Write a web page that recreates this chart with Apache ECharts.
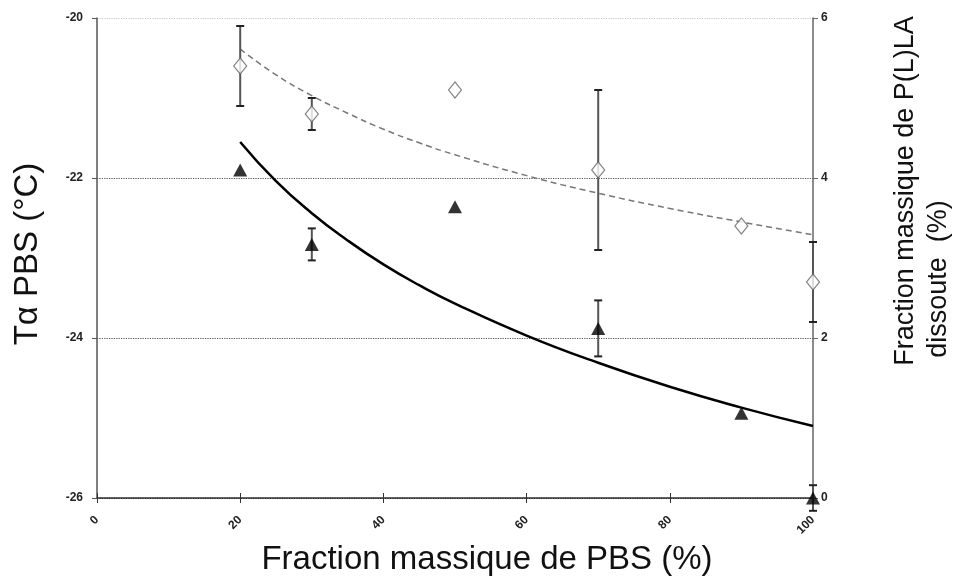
<!DOCTYPE html>
<html><head><meta charset="utf-8">
<script src="https://cdn.jsdelivr.net/npm/echarts@6/dist/echarts.min.js"></script>
<style>html,body{margin:0;padding:0;background:#fff}#c{width:964px;height:583px}</style>
</head><body><div id="c"></div>
<script>
// ---- data ----
const xTicks = [0, 20, 40, 60, 80, 100];
// Tα PBS (°C), left axis — open diamonds
const tX   = [20, 30, 50, 70, 90, 100];
const tY   = [-20.6, -21.2, -20.9, -21.9, -22.6, -23.3];
const tErr = [0.5, 0.2, 0, 1.0, 0, 0.5];
// Fraction massique de P(L)LA dissoute (%), right axis — filled triangles
const pX   = [20, 30, 50, 70, 90, 100];
const pY   = [4.1, 3.17, 3.64, 2.12, 1.06, 0];
const pErr = [0, 0.2, 0, 0.35, 0, 0.16];
// trend curves
const fitX = [20, 25, 30, 35, 40, 45, 50, 60, 70, 80, 90, 100];
const tFit = [-20.39, -20.71, -20.97, -21.19, -21.39, -21.56, -21.71, -21.97, -22.19, -22.38, -22.55, -22.71];
const pFit = [4.45, 3.96, 3.56, 3.22, 2.92, 2.66, 2.43, 2.03, 1.69, 1.39, 1.13, 0.90];

const FONT = '"Liberation Sans", Arial, sans-serif';
const pair = (xs, ys) => xs.map((x, i) => [x, ys[i]]);
const errData = (xs, ys, es) => xs.map((x, i) => [x, ys[i] - es[i], ys[i] + es[i]]).filter((d, i) => es[i] > 0);

function errRender(params, api) {
  const x = api.value(0);
  const lo = api.coord([x, api.value(1)]);
  const hi = api.coord([x, api.value(2)]);
  const w = 4;
  const st = { stroke: '#555', lineWidth: 2 };
  const cap = { stroke: '#222', lineWidth: 2 };
  return { type: 'group', children: [
    { type: 'line', shape: { x1: lo[0], y1: lo[1], x2: hi[0], y2: hi[1] }, style: st },
    { type: 'line', shape: { x1: lo[0] - w, y1: lo[1], x2: lo[0] + w, y2: lo[1] }, style: cap },
    { type: 'line', shape: { x1: hi[0] - w, y1: hi[1], x2: hi[0] + w, y2: hi[1] }, style: cap }
  ]};
}

const chart = echarts.init(document.getElementById('c'), null, { renderer: 'canvas' });
chart.setOption({
  animation: false,
  backgroundColor: '#fff',
  grid: { left: 97, right: 151, top: 18, bottom: 85 },
  xAxis: [{
    type: 'value', min: 0, max: 100, interval: 20, position: 'bottom',
    axisLine: { show: true, onZero: false, lineStyle: { color: '#333', width: 1.5 } },
    axisTick: { show: true, length: 5, lineStyle: { color: '#333' } },
    axisLabel: { rotate: 45, margin: 20, fontFamily: FONT, fontWeight: 'bold', fontSize: 12, color: '#222' },
    splitLine: { show: false }
  }, {
    type: 'value', min: 0, max: 100, interval: 20, position: 'bottom',
    axisLine: { show: false, onZero: false },
    axisTick: { show: true, inside: true, length: 5, lineStyle: { color: '#333' } },
    axisLabel: { show: false }, splitLine: { show: false }
  }],
  yAxis: [{
    type: 'value', min: -26, max: -20, interval: 2, position: 'left',
    axisLine: { show: true, onZero: false, lineStyle: { color: '#555', width: 1.5 } },
    axisTick: { show: true, length: 5, lineStyle: { color: '#555' } },
    axisLabel: { margin: 14, fontFamily: FONT, fontWeight: 'bold', fontSize: 12, color: '#222' },
    splitLine: { show: true, lineStyle: { type: 'dotted', width: 1.2, color: ['#000', '#555', '#555', '#c8c8c8'] } }
  }, {
    type: 'value', min: 0, max: 6, interval: 2, position: 'right',
    axisLine: { show: true, onZero: false, lineStyle: { color: '#666', width: 1.5 } },
    axisTick: { show: true, length: 5, lineStyle: { color: '#666' } },
    axisLabel: { margin: 8, fontFamily: FONT, fontWeight: 'bold', fontSize: 12, color: '#222' },
    splitLine: { show: false }
  }],
  series: [
    { type: 'line', name: 'fitT', yAxisIndex: 0, data: pair(fitX, tFit), smooth: true, showSymbol: false,
      lineStyle: { color: '#777', width: 1.5, type: [6, 4] }, z: 2 },
    { type: 'line', name: 'fitP', yAxisIndex: 1, data: pair(fitX, pFit), smooth: true, showSymbol: false,
      lineStyle: { color: '#000', width: 2.5 }, z: 2 },
    { type: 'custom', name: 'errT', yAxisIndex: 0, data: errData(tX, tY, tErr), renderItem: errRender,
      encode: { x: 0, y: [1, 2] }, z: 3 },
    { type: 'custom', name: 'errP', yAxisIndex: 1, data: errData(pX, pY, pErr), renderItem: errRender,
      encode: { x: 0, y: [1, 2] }, z: 3 },
    { type: 'scatter', name: 'Tα', yAxisIndex: 0, data: pair(tX, tY), symbol: 'diamond', symbolSize: [13, 16],
      itemStyle: { color: '#fff', borderColor: '#666', borderWidth: 1.2 }, z: 5 },
    { type: 'scatter', name: 'PLA', yAxisIndex: 1, data: pair(pX, pY), symbol: 'triangle', symbolSize: [14, 13],
      itemStyle: { color: '#000' }, z: 5 }
  ],
  graphic: [
    { type: 'text', x: 28, y: 254, rotation: Math.PI / 2,
      style: { text: 'Tα PBS (°C)', font: '33px ' + FONT, fill: '#111', textAlign: 'center', textVerticalAlign: 'middle' } },
    { type: 'text', x: 487, y: 560,
      style: { text: 'Fraction massique de PBS (%)', font: '33px ' + FONT, fill: '#111', textAlign: 'center', textVerticalAlign: 'middle' } },
    { type: 'text', x: 906, y: 191, rotation: Math.PI / 2,
      style: { text: 'Fraction massique de P(L)LA', font: '27px ' + FONT, fill: '#111', textAlign: 'center', textVerticalAlign: 'middle' } },
    { type: 'text', x: 939, y: 279, rotation: Math.PI / 2,
      style: { text: 'dissoute  (%)', font: '27px ' + FONT, fill: '#111', textAlign: 'center', textVerticalAlign: 'middle' } }
  ]
});
</script></body></html>
